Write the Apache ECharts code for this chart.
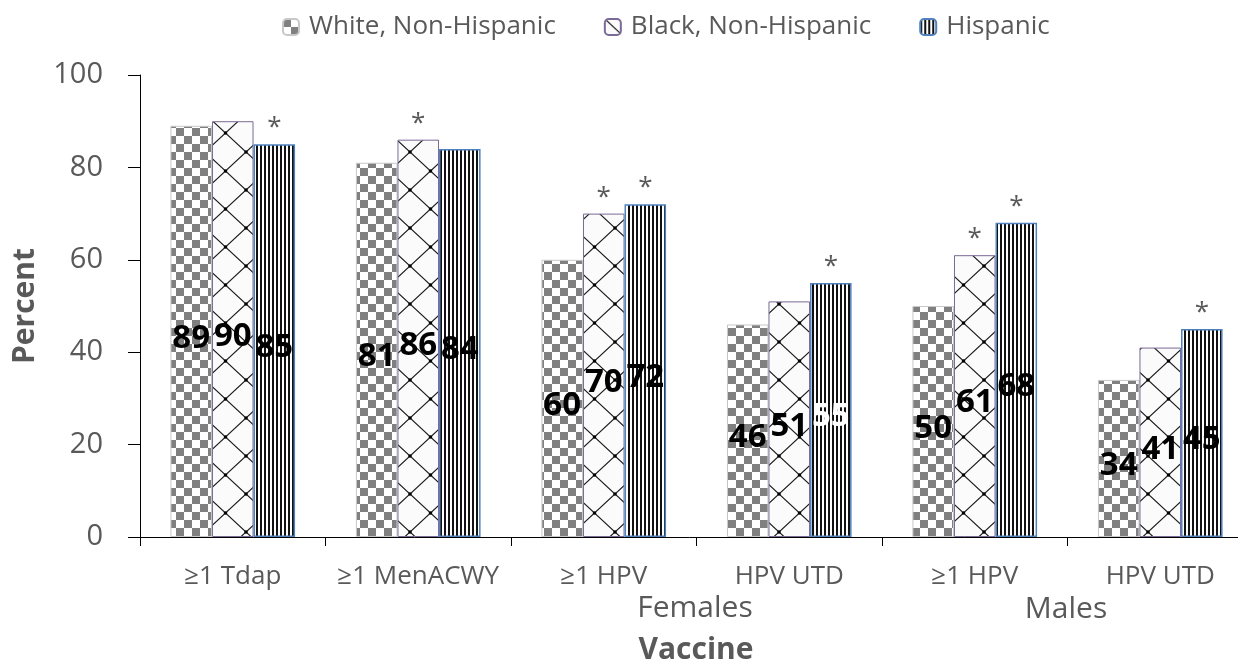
<!DOCTYPE html>
<html>
<head>
<meta charset="utf-8">
<script src="https://cdn.jsdelivr.net/npm/echarts@6/dist/echarts.min.js"></script>
<style>
html,body{margin:0;padding:0;background:#fff;}
#chart{width:1238px;height:670px;}
</style>
</head>
<body>
<div id="chart"></div>
<script>
// ---- data ----
const categories = ['≥1 Tdap', '≥1 MenACWY', '≥1 HPV', 'HPV UTD', '≥1 HPV', 'HPV UTD'];
const seriesNames = ['White, Non-Hispanic', 'Black, Non-Hispanic', 'Hispanic'];
const whiteValues = [89, 81, 60, 46, 50, 34];
const blackValues = [90, 86, 70, 51, 61, 41];
const hispanicValues = [85, 84, 72, 55, 68, 45];
// significance markers (*): 1 = significant vs. White
const whiteSig = [0, 0, 0, 0, 0, 0];
const blackSig = [0, 1, 1, 0, 1, 0];
const hispanicSig = [1, 0, 1, 1, 1, 1];
const yTicks = [0, 20, 40, 60, 80, 100];
const groupLabels = ['Females', 'Males'];

// ---- patterns ----
function checkerPattern() {
  const c = document.createElement('canvas');
  c.width = 16; c.height = 16;
  const g = c.getContext('2d');
  g.fillStyle = '#ffffff'; g.fillRect(0, 0, 16, 16);
  g.fillStyle = '#808080';
  g.fillRect(0, 0, 8, 8);
  g.fillRect(8, 8, 8, 8);
  return { image: c, repeat: 'repeat' };
}
function crossPattern() {
  const w = 41, h = 38;
  const c = document.createElement('canvas');
  c.width = w; c.height = h;
  const g = c.getContext('2d');
  g.fillStyle = '#fbfbfb'; g.fillRect(0, 0, w, h);
  g.strokeStyle = '#1a1a1a'; g.lineWidth = 1.2;
  g.beginPath();
  g.moveTo(0, 0); g.lineTo(w, h);
  g.moveTo(w, 0); g.lineTo(0, h);
  g.stroke();
  g.fillStyle = '#000';
  [[0,0],[w,0],[0,h],[w,h],[w/2,h/2]].forEach(function (p) {
    g.beginPath(); g.arc(p[0], p[1], 1.8, 0, Math.PI * 2); g.fill();
  });
  return { image: c, repeat: 'repeat' };
}
function stripePattern() {
  const c = document.createElement('canvas');
  c.width = 4; c.height = 4;
  const g = c.getContext('2d');
  g.fillStyle = '#ffffff'; g.fillRect(0, 0, 4, 4);
  g.fillStyle = '#111111'; g.fillRect(0, 0, 2, 4);
  return { image: c, repeat: 'repeat' };
}

const FONT = 'Open Sans';
const GRAY = '#595959';

function buildSeries(name, values, sig, fill, border, borderWidth, specialLabels) {
  return {
    name: name,
    type: 'bar',
    barWidth: '22.4%',
    barGap: '0%',
    data: values.map(function (v, i) {
      const item = { value: v };
      if (specialLabels && specialLabels[i]) item.label = { color: specialLabels[i] };
      return item;
    }),
    itemStyle: { color: fill, borderColor: border, borderWidth: borderWidth },
    label: {
      show: true, position: 'inside', offset: [0, 7],
      fontFamily: FONT, fontSize: 33, fontWeight: 'bold', color: '#000',
      textBorderWidth: 0
    },
    markPoint: {
      symbol: 'rect', symbolSize: 1,
      itemStyle: { color: 'rgba(0,0,0,0)' },
      label: {
        show: true, position: 'top', distance: 3,
        formatter: '*', color: GRAY, fontFamily: FONT, fontSize: 26
      },
      data: sig.map(function (s, i) { return s ? { coord: [i, values[i]], value: '*' } : null; })
               .filter(function (d) { return d; })
    }
  };
}

const chart = echarts.init(document.getElementById('chart'));
chart.setOption({
  animation: false,
  backgroundColor: '#fff',
  textStyle: { fontFamily: FONT },
  legend: {
    top: 9, left: 277,
    itemWidth: 16, itemHeight: 16, itemGap: 48,
    textStyle: { fontFamily: FONT, fontSize: 26, color: GRAY, padding: [0, 0, 0, 5] },
    data: seriesNames
  },
  grid: { left: 140, right: -15, top: 75, bottom: 133, containLabel: false, outerBoundsMode: 'none' },
  xAxis: {
    type: 'category',
    data: categories,
    axisLine: { lineStyle: { color: '#000', width: 1 } },
    axisTick: { show: true, length: 9, interval: 0, lineStyle: { color: '#000' } },
    axisLabel: { interval: 0, margin: 27, fontFamily: FONT, fontSize: 26, color: GRAY },
    splitLine: { show: false }
  },
  yAxis: {
    type: 'value',
    min: yTicks[0], max: yTicks[yTicks.length - 1], interval: yTicks[1] - yTicks[0],
    name: 'Percent', nameLocation: 'middle', nameGap: 100, nameRotate: 90,
    nameTextStyle: { fontFamily: FONT, fontSize: 30, fontWeight: 'bold', color: GRAY },
    axisLine: { show: true, lineStyle: { color: '#000', width: 1 } },
    axisTick: { show: true, length: 12, lineStyle: { color: '#000' } },
    axisLabel: { margin: 37, fontFamily: FONT, fontSize: 29, color: GRAY },
    splitLine: { show: false }
  },
  graphic: [
    { type: 'text', x: 695, y: 608,
      style: { text: groupLabels[0], align: 'center', verticalAlign: 'middle',
               font: '30px "Open Sans"', fill: GRAY } },
    { type: 'text', x: 1066, y: 609,
      style: { text: groupLabels[1], align: 'center', verticalAlign: 'middle',
               font: '30px "Open Sans"', fill: GRAY } },
    { type: 'text', x: 696, y: 650,
      style: { text: 'Vaccine', align: 'center', verticalAlign: 'middle',
               font: 'bold 30px "Open Sans"', fill: GRAY } }
  ],
  series: [
    buildSeries(seriesNames[0], whiteValues, whiteSig, checkerPattern(), '#c8c8c8', 1, null),
    buildSeries(seriesNames[1], blackValues, blackSig, crossPattern(), '#7a6a96', 1, null),
    buildSeries(seriesNames[2], hispanicValues, hispanicSig, stripePattern(), '#4f81bd', 1.5,
                [null, null, null, '#ffffff', null, null])
  ]
});
</script>
</body>
</html>
